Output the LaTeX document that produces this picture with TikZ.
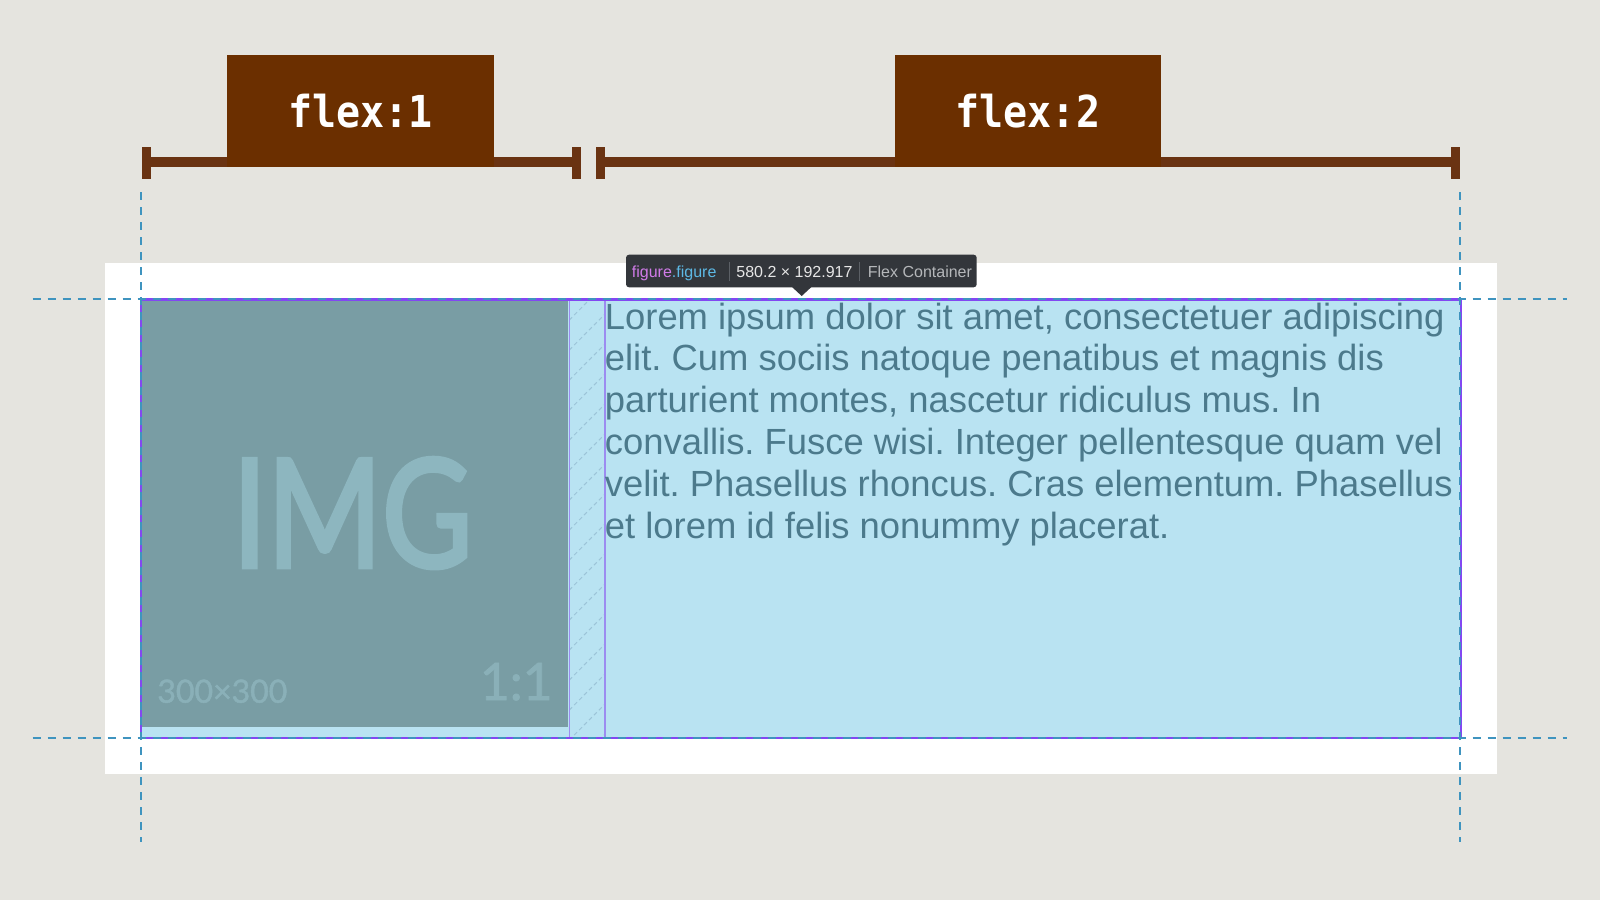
\documentclass[tikz,border=0pt]{standalone}
\usepackage{fontspec}
\setmainfont{Liberation Sans}
\newfontfamily\monofont{DejaVu Sans Mono}
\newfontfamily\imgboldfont{Lato}[FakeBold=1.5]
\newfontfamily\imgheavyfont{Lato}[FakeBold=3]
\definecolor{bgc}{HTML}{E5E4DF}
\definecolor{contc}{HTML}{B9E3F2}
\definecolor{imgc}{HTML}{799DA4}
\definecolor{imgtxt}{HTML}{8DB6BF}
\definecolor{imgsmall}{HTML}{8AB0B8}
\definecolor{brownbox}{HTML}{6B2F00}
\definecolor{brownbar}{HTML}{6A3312}
\definecolor{paratxt}{HTML}{4C7A8C}
\definecolor{guidec}{HTML}{3F94BF}
\definecolor{borderc}{HTML}{8248F2}
\definecolor{gapline}{HTML}{9C8CF0}
\definecolor{hatchc}{HTML}{9CC4D8}
\definecolor{tipbg}{HTML}{33363B}
\definecolor{tippurple}{HTML}{D07BE8}
\definecolor{tipblue}{HTML}{5DB8E4}
\definecolor{tipnum}{HTML}{E6E6E6}
\definecolor{tipgray}{HTML}{B5B7BA}
\definecolor{tipsep}{HTML}{5C6066}
\frenchspacing
\begin{document}
\begin{tikzpicture}[x=0.5pt,y=-0.5pt,
  para/.style={anchor=base west, inner sep=0, text=paratxt, font=\fontsize{18.2pt}{20.9pt}\selectfont},
  guide/.style={draw=guidec, line width=1pt, dash pattern=on 4pt off 3.5pt},
  flexlabel/.style={anchor=base, inner sep=0, text=white, font=\monofont\bfseries\fontsize{20pt}{24pt}\selectfont},
  tiptext/.style={anchor=base west, inner sep=0, font=\fontsize{8pt}{10pt}\selectfont},
  hatchline/.style={draw=hatchc, line width=0.5pt, dash pattern=on 2pt off 1.5pt}
]
\useasboundingbox (0,0) rectangle (1600,900);
\fill[bgc] (0,0) rectangle (1600,900);
% white card
\fill[white] (105,263.3) rectangle (1497.3,774.4);
% container
\fill[contc] (140.8,299.3) rectangle (1461,738);
% image
\fill[imgc] (140.8,299.3) rectangle (568.4,726.7);
% gap hatching
\begin{scope}
  \clip (569.3,299.3) rectangle (605,738);
  \foreach \y in {320,350,...,800} {
    \draw[hatchline] (569.3,\y) -- (605,\y-36);
  }
\end{scope}
\draw[gapline, line width=0.6pt] (569.3,299.3) -- (569.3,738);
\draw[gapline, line width=0.6pt] (605,299.3) -- (605,738);
% container border
\draw[borderc, line width=1.2pt] (140.8,299.3) rectangle (1461,738);
% guides
\draw[guide] (32.7,299.3) -- (1566.7,299.3);
\draw[guide] (32.7,738) -- (1566.7,738);
\draw[guide] (140.8,192) -- (140.8,842);
\draw[guide] (1460,192) -- (1460,842);
% image labels
\node[anchor=base west, inner sep=0, text=imgtxt] (imglabel) at (232,567) {\resizebox{120pt}{54.5pt}{\imgheavyfont IMG}};
\node[anchor=base west, inner sep=0, text=imgsmall, font=\imgboldfont\fontsize{16pt}{18pt}\selectfont] (imgsize) at (157,702.7) {300×300};
\node[anchor=base east, inner sep=0, text=imgsmall, font=\imgboldfont\fontsize{25.8pt}{28pt}\selectfont] (imgratio) at (553,700) {1:1};
% paragraph
\node[para] (l1) at (604.5,329) {Lorem ipsum dolor sit amet, consectetuer adipiscing};
\node[para] (l2) at (604.5,370.8) {elit. Cum sociis natoque penatibus et magnis dis};
\node[para] (l3) at (604.5,412.6) {parturient montes, nascetur ridiculus mus. In};
\node[para] (l4) at (604.5,454.4) {convallis. Fusce wisi. Integer pellentesque quam vel};
\node[para] (l5) at (604.5,496.2) {velit. Phasellus rhoncus. Cras elementum. Phasellus};
\node[para] (l6) at (604.5,538) {et lorem id felis nonummy placerat.};
% tooltip
\fill[tipbg, rounded corners=1.5pt] (626,254.7) rectangle (976.7,287.3);
\fill[tipbg] (792,287) -- (801.7,296) -- (811.4,287) -- cycle;
\node[tiptext] (tipname) at (631.5,277.3) {\textcolor{tippurple}{figure}\textcolor{tipblue}{.figure}};
\draw[tipsep, line width=0.5pt] (729,262) -- (729,281);
\node[tiptext, text=tipnum] (tipsize) at (736,277.3) {580.2 × 192.917};
\draw[tipsep, line width=0.5pt] (859,262) -- (859,281);
\node[tiptext, text=tipgray] (tiptype) at (867.5,277.3) {Flex Container};
% flex bars
\fill[brownbar] (141.7,146.7) rectangle (150.7,179.3);
\fill[brownbar] (150.7,157.3) rectangle (571.7,166.7);
\fill[brownbar] (571.7,146.7) rectangle (580.7,179.3);
\fill[brownbar] (596,146.7) rectangle (605,179.3);
\fill[brownbar] (605,157.3) rectangle (1450.5,166.7);
\fill[brownbar] (1450.5,146.7) rectangle (1459.5,179.3);
\fill[brownbox] (227.3,55.3) rectangle (494,166.7);
\fill[brownbox] (894.5,55.3) rectangle (1161.3,166.7);
\node[flexlabel] (flexone) at (360.7,127) {\scalebox{1}[1.1]{flex:1}};
\node[flexlabel] (flextwo) at (1027.9,127) {\scalebox{1}[1.1]{flex:2}};
\end{tikzpicture}
\end{document}
